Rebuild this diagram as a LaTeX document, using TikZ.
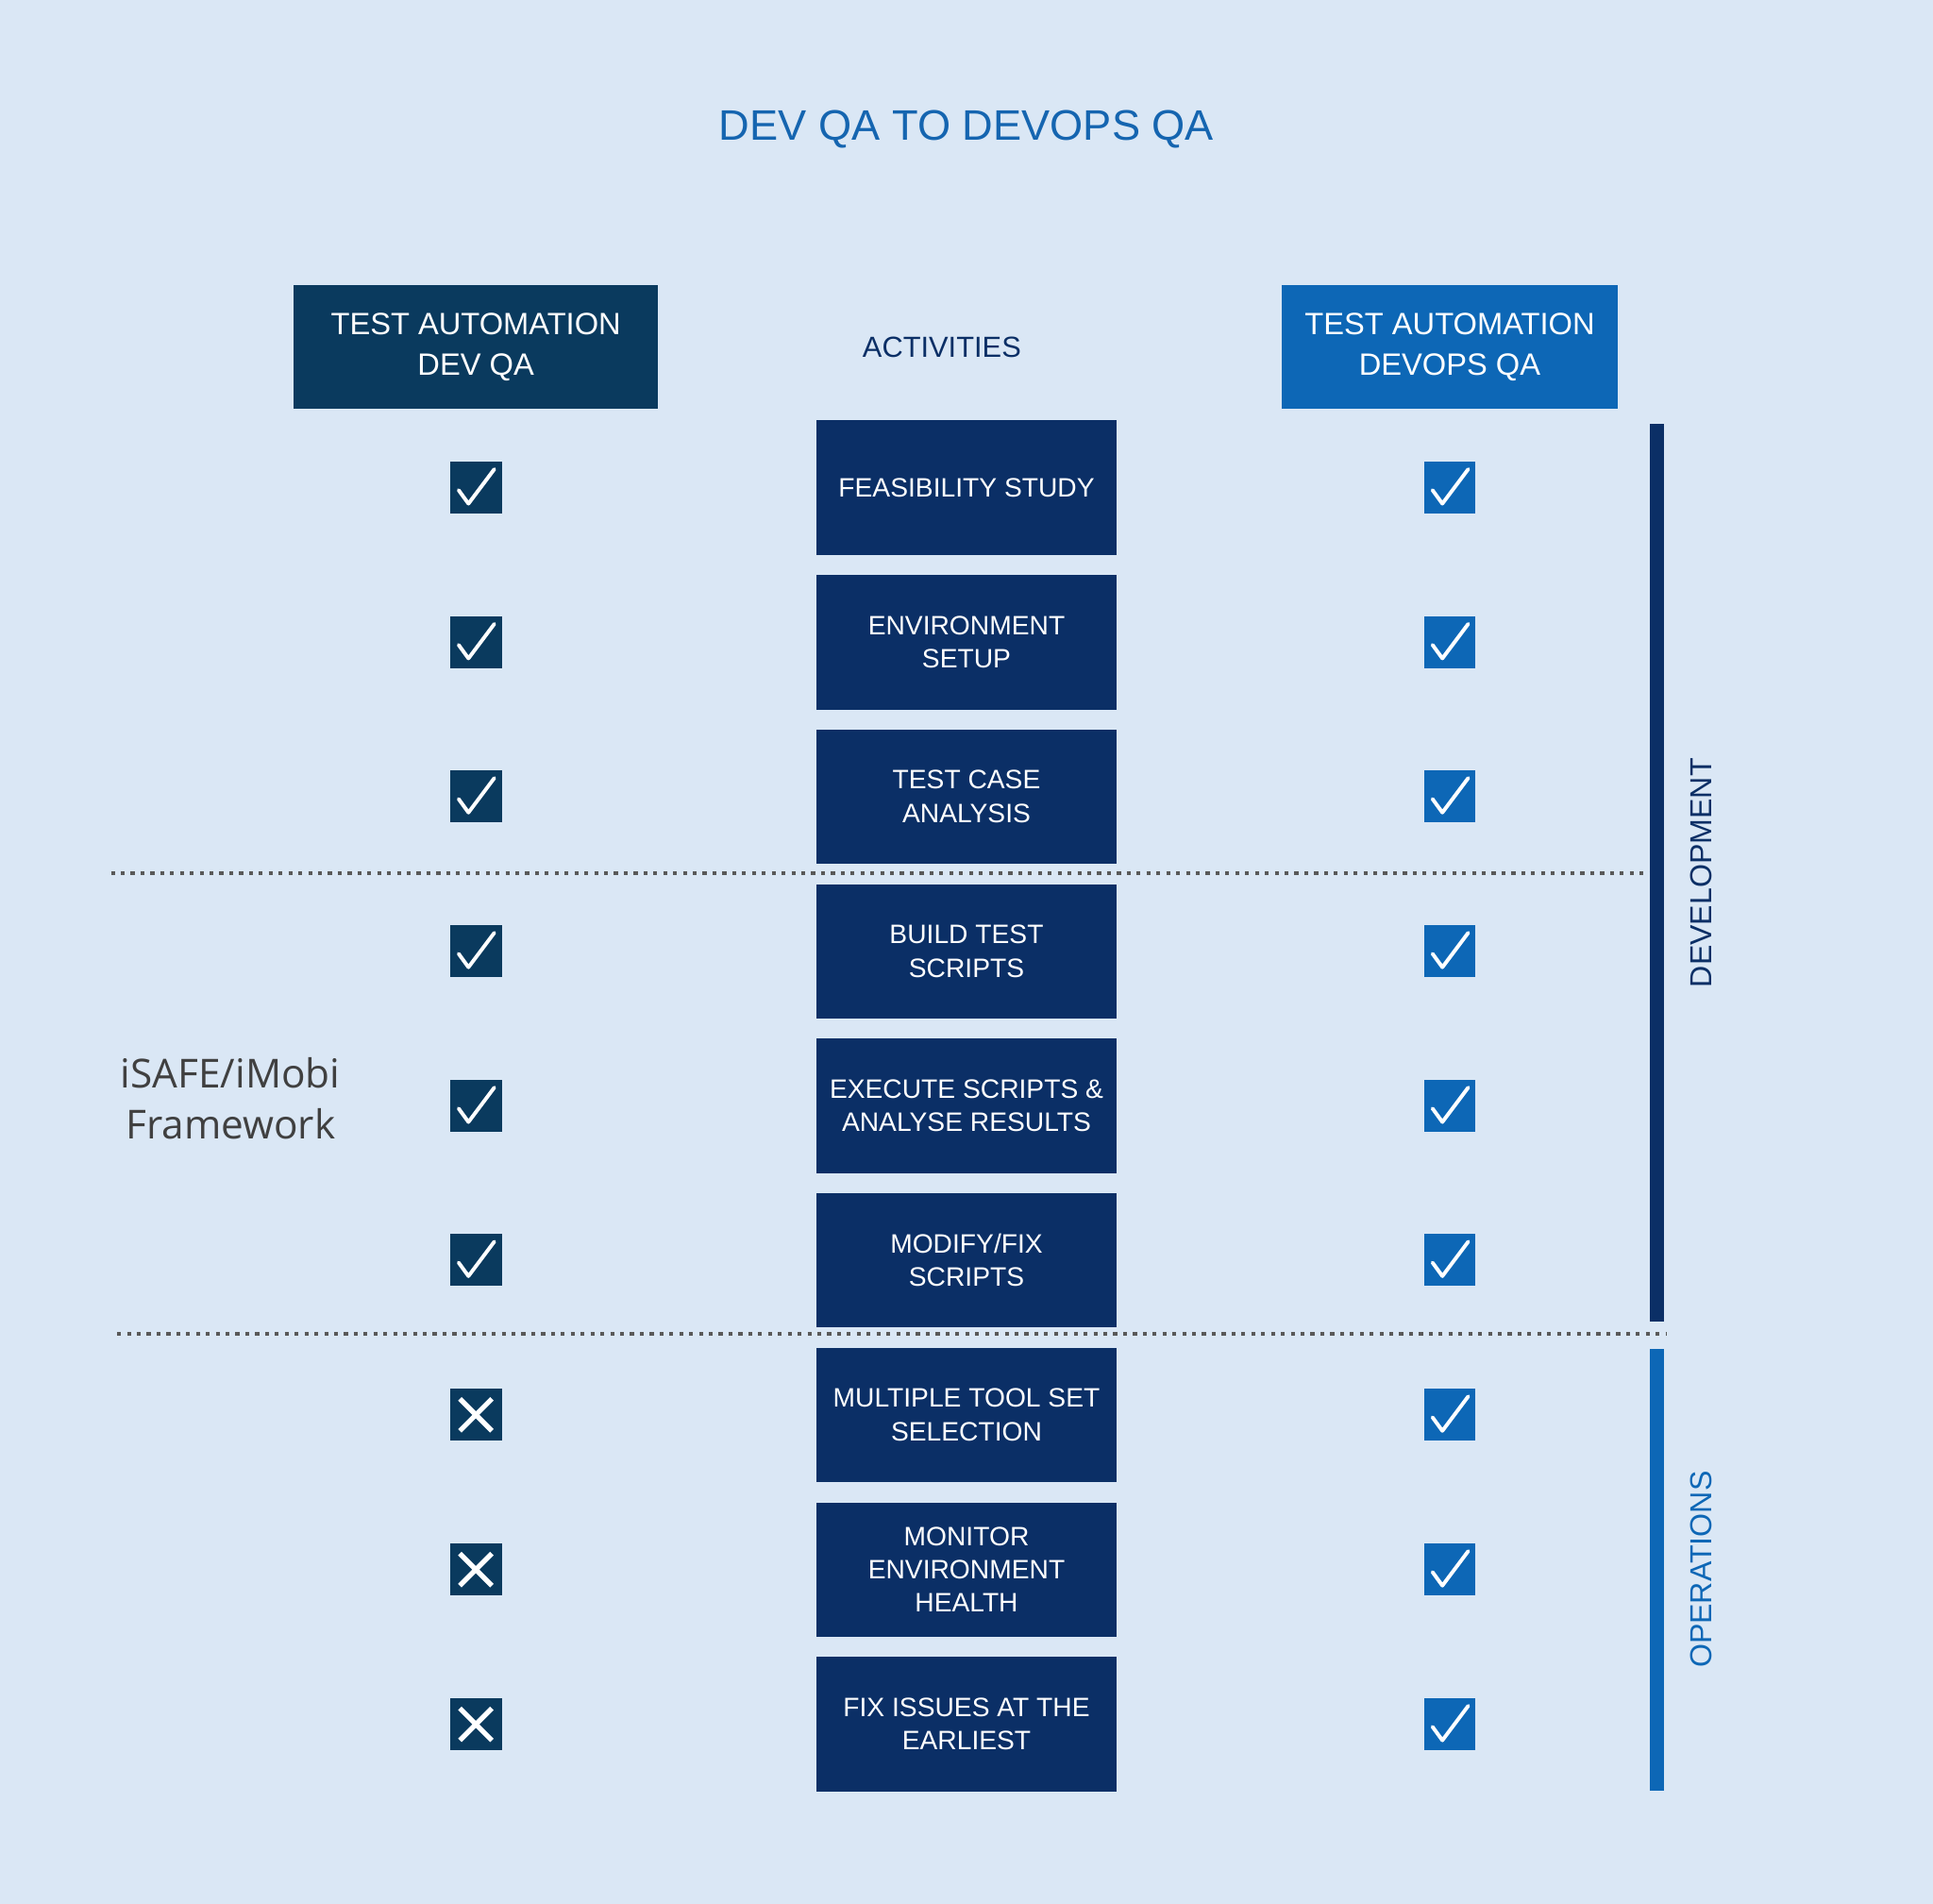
\documentclass[tikz,border=0pt]{standalone}
\usepackage{fontspec}
\setmainfont{Liberation Sans}
\newfontfamily\fw{Open Sans}
\definecolor{bg}{HTML}{DAE7F5}
\definecolor{navy}{HTML}{0B2F66}
\definecolor{lhead}{HTML}{0A3A5E}
\definecolor{rblue}{HTML}{0D67B6}
\definecolor{ttl}{HTML}{1565B0}
\begin{document}
\begin{tikzpicture}[x=0.5pt,y=-0.5pt,
 act/.style={fill=navy,text=white,minimum width=121.5pt,minimum height=54.5pt,inner sep=0pt,align=center,font=\fontsize{10.8}{13.5}\selectfont},
 ck/.style={minimum size=21pt,inner sep=0pt},
 hd/.style={minimum height=50pt,inner sep=0pt,align=center,text=white,font=\fontsize{12.5}{16.5}\selectfont},
 dots/.style={line width=1.6pt,dash pattern=on 1.6pt off 2.4pt,color=gray!70!black}]
\fill[bg] (0,0) rectangle (1568,1544);
\useasboundingbox (0,0) rectangle (1568,1544);
\node[text=ttl,font=\fontsize{17.3}{20}\selectfont] (title) at (784,105) {DEV QA TO DEVOPS QA};
\node[hd,fill=lhead,minimum width=148pt] (lh) at (386,281.5) {TEST AUTOMATION\\DEV QA};
\node[hd,fill=rblue,minimum width=136pt] (rh) at (1176,281.5) {TEST AUTOMATION\\DEVOPS QA};
\node[text=navy,font=\fontsize{11.8}{14}\selectfont] (actl) at (764,282) {ACTIVITIES};
\draw[dots] (90,708) -- (1338,708);
\draw[dots] (95,1082) -- (1352,1082);
\foreach \y/\t/\n in {395.5/{FEASIBILITY STUDY}/1, 521/{ENVIRONMENT\\SETUP}/2, 646/{TEST CASE\\ANALYSIS}/3, 771.5/{BUILD TEST\\SCRIPTS}/4, 897/{EXECUTE SCRIPTS \&\\ANALYSE RESULTS}/5, 1022/{MODIFY/FIX\\SCRIPTS}/6, 1147.5/{MULTIPLE TOOL SET\\SELECTION}/7, 1273/{MONITOR\\ENVIRONMENT\\HEALTH}/8, 1398.5/{FIX ISSUES AT THE\\EARLIEST}/9}{
 \node[act] (a\n) at (784,\y) {\t};
 \node[ck,fill=rblue] (r\n) at (1176,\y) {};
 \draw[white,line width=1.5pt,line cap=round,line join=round] ([shift={(-14,2)}]r\n.center) -- ([shift={(-6,13)}]r\n.center) -- ([shift={(15,-15)}]r\n.center);
}
\foreach \n in {1,...,6}{
 \node[ck,fill=lhead] (l\n) at (386,0 |- a\n) {};
 \draw[white,line width=1.5pt,line cap=round,line join=round] ([shift={(-14,2)}]l\n.center) -- ([shift={(-6,13)}]l\n.center) -- ([shift={(15,-15)}]l\n.center);
}
\foreach \n in {7,8,9}{
 \node[ck,fill=lhead] (l\n) at (386,0 |- a\n) {};
 \draw[white,line width=2pt] ([shift={(-13,-13)}]l\n.center) -- ([shift={(13,13)}]l\n.center) ([shift={(-13,13)}]l\n.center) -- ([shift={(13,-13)}]l\n.center);
}
\fill[navy] (1338,344) rectangle (1350,1072);
\fill[rblue] (1338,1094) rectangle (1350,1452);
\node[rotate=90,text=navy,font=\fontsize{12.3}{14}\selectfont] (dev) at (1380,708) {DEVELOPMENT};
\node[rotate=90,text=rblue,font=\fontsize{12.3}{14}\selectfont] (ops) at (1380,1273) {OPERATIONS};
\node[align=center,text=black!75,font=\fw\fontsize{16.2}{20.5}\selectfont] (fw) at (187,891) {iSAFE/iMobi\\Framework};
\end{tikzpicture}
\end{document}
